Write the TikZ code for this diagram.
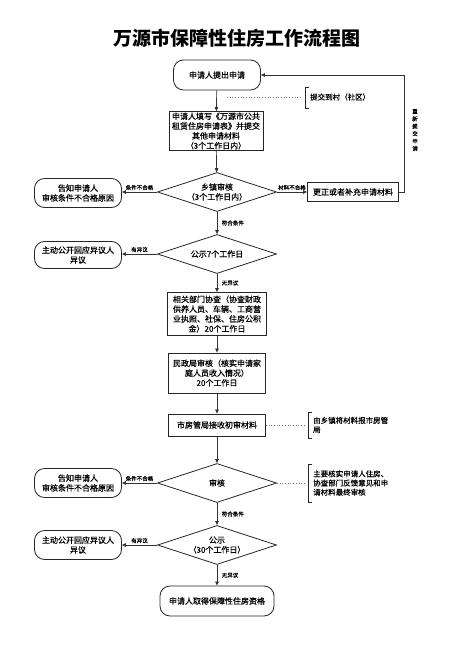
\documentclass[tikz,border=0pt]{standalone}
\usepackage{fontspec}
\setmainfont{Noto Sans CJK SC}
\newfontfamily\medfont{Noto Sans CJK SC}[FakeBold=0.6]
\newfontfamily\labfont{Noto Sans CJK SC}[FakeBold=0.35]
\usetikzlibrary{shapes.geometric,arrows.meta}
\begin{document}
\begin{tikzpicture}[x=1pt,y=-1pt,
  every node/.style={font=\medfont\fontsize{8}{9.8}\selectfont, inner sep=1pt},
  boxn/.style={draw=black!85, line width=0.8pt, align=center},
  roundn/.style={boxn, rounded corners=10pt},
  dia/.style={boxn, shape=diamond, aspect=3, inner sep=0pt, minimum width=119pt, minimum height=39pt},
  arr/.style={-{Triangle[length=4pt,width=3.5pt]}, line width=0.7pt, draw=black!80},
  lab/.style={font=\labfont\fontsize{5.5}{6}\selectfont, inner sep=1.5pt},
  note/.style={font=\medfont\fontsize{7.5}{9.2}\selectfont, align=left, anchor=west, inner sep=0pt},
  dots/.style={dotted, line width=0.7pt, draw=black!55},
  brk/.style={line width=0.8pt, draw=black!85}]
\useasboundingbox (0,0) rectangle (474,666);

\node[font=\fontsize{19}{22}\selectfont\bfseries] (title) at (237,38) {万源市保障性住房工作流程图};

\node[roundn, minimum width=87pt, minimum height=30pt] (n1) at (217,75) {申请人提出申请};
\node[boxn, minimum width=94pt, minimum height=38pt] (n2) at (216,131) {申请人填写《万源市公共\\租赁住房申请表》并提交\\其他申请材料\\（3个工作日内）};
\node[dia] (d1) at (217,192) {乡镇审核\\（3个工作日内）};
\node[roundn, minimum width=87pt, minimum height=29pt] (L1) at (78,193) {告知申请人\\审核条件不合格原因};
\node[boxn, minimum width=91pt, minimum height=19pt, inner sep=3pt] (R1) at (353,192) {更正或者补充申请材料};
\node[dia] (d2) at (217,254) {公示7个工作日};
\node[roundn, minimum width=87pt, minimum height=27pt] (L2) at (78,255) {主动公开回应异议人\\异议};
\node[boxn, minimum width=99pt, minimum height=43pt] (n3) at (217,314) {相关部门协查（协查财政\\供养人员、车辆、工商营\\业执照、社保、住房公积\\金）20个工作日};
\node[boxn, minimum width=97pt, minimum height=40pt] (n4) at (217,373) {民政局审核（核实申请家\\庭人员收入情况）\\20个工作日};
\node[boxn, minimum width=97pt, minimum height=22pt] (n5) at (217,425) {市房管局接收初审材料};
\node[dia] (d3) at (217,483) {审核};
\node[roundn, minimum width=87pt, minimum height=29pt] (L3) at (78,483) {告知申请人\\审核条件不合格原因};
\node[dia] (d4) at (217,545) {公示\\（30个工作日）};
\node[roundn, minimum width=87pt, minimum height=29pt] (L4) at (78,545) {主动公开回应异议人\\异议};
\node[roundn, minimum width=114pt, minimum height=30pt] (n6) at (217,601) {申请人取得保障性住房资格};

% main flow
\draw[arr] (n1) -- (n2);
\draw[arr] (n2) -- (d1);
\draw[arr] (d1.west) -- node[lab,above]{条件不合格} (d1.west -| L1.east);
\draw[arr] (d1.east) -- node[lab,above]{材料不合格} (d1.east -| R1.west);
\draw[arr] (R1.east) -- ++(5,0) |- (n1.east);
\node[font=\labfont\fontsize{5.5}{7.4}\selectfont, align=center] (resub) at (415,130) {重\\新\\提\\交\\申\\请};
\draw[arr] (d1) -- node[lab,right,xshift=3pt]{符合条件} (d2);
\draw[arr] (d2.west) -- node[lab,above]{有异议} (d2.west -| L2.east);
\draw[arr] (d2) -- node[lab,right,xshift=3pt]{无异议} (n3);
\draw[arr] (n3) -- (n4);
\draw[arr] (n4) -- (n5);
\draw[arr] (n5) -- (d3);
\draw[arr] (d3.west) -- node[lab,above]{条件不合格} (d3.west -| L3.east);
\draw[arr] (d3) -- node[lab,right,xshift=3pt]{符合条件} (d4);
\draw[arr] (d4.west) -- node[lab,above]{有异议} (d4.west -| L4.east);
\draw[arr] (d4) -- node[lab,right,xshift=3pt]{无异议} (n6);

% annotations
\coordinate (a1s) at (227,97);
\coordinate (a1e) at (302,97);
\draw[dots] (a1s) -- (a1e);
\draw[brk] (309,87) -- (305,87) -- (305,108) -- (309,108);
\node[note] (t1) at (310,97) {提交到村（社区）};

\coordinate (a2e) at (305,425);
\draw[dots] (n5.east) -- (a2e);
\draw[brk] (312,412) -- (308,412) -- (308,438) -- (312,438);
\node[note] (t2) at (313,425) {由乡镇将材料报市房管\\局};

\coordinate (a3e) at (305,483);
\draw[dots] (d3.east) -- (a3e);
\draw[brk] (312,464) -- (308,464) -- (308,502) -- (312,502);
\node[note] (t3) at (313,483) {主要核实申请人住房、\\协查部门反馈意见和申\\请材料最终审核};
\end{tikzpicture}
\end{document}
